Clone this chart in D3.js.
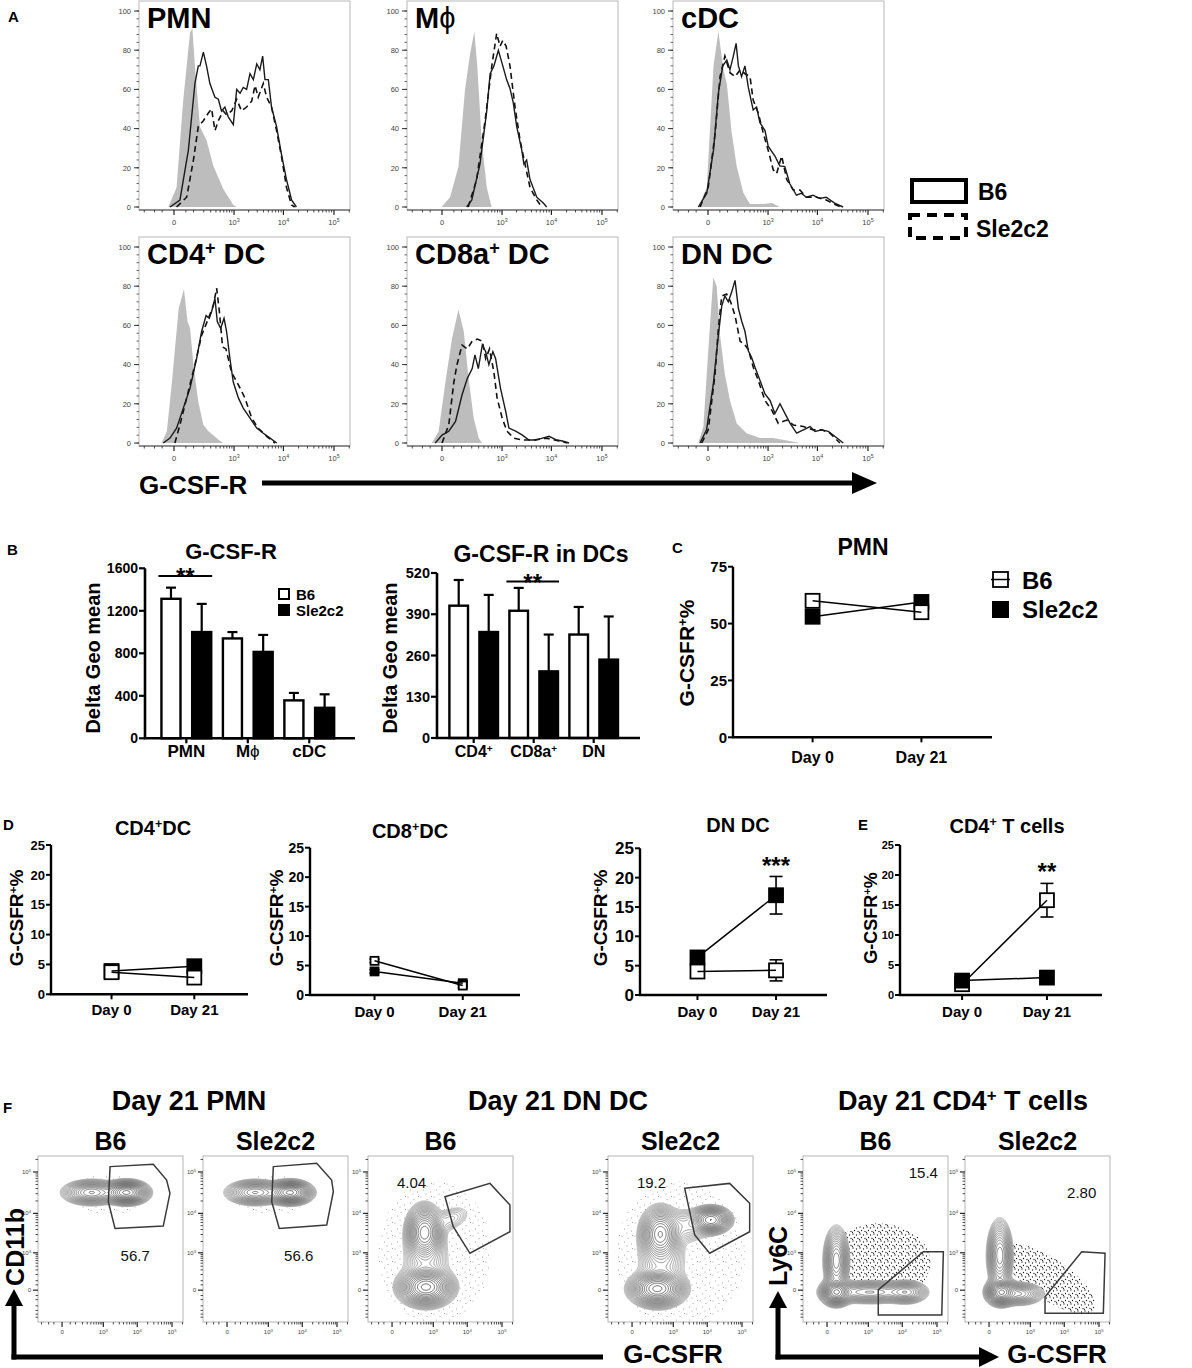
<!DOCTYPE html>
<html>
<head>
<meta charset="utf-8">
<script src="https://cdn.jsdelivr.net/npm/d3@7"></script>
<style>
  body { margin: 0; background: #fff; }
  svg { display: block; font-family: "Liberation Sans", Arial, sans-serif; }
</style>
</head>
<body>
<svg id="fig" width="1192" height="1368"></svg>
<script>
// ---------------------------------------------------------------------------
// Panel A: histogram traces, [display channel 0-100 across the axis, % of max]
const pmnIso = [[13.9,0],[17.8,10],[21,55],[24.2,89],[25.3,91],[26.5,72],[28.9,41],[32,34],[35.2,21],[40,9],[44.7,1],[46.3,0]];
const pmnB6 = [[14.7,0],[19.4,3.5],[23.4,29],[26.5,63],[28.1,72],[28.9,72],[30.5,79],[32,72],[33.6,63],[36,56],[37.6,55],[39.1,49],[40.7,51],[42.3,46],[44.7,42],[46.3,60],[47.9,58],[49.4,61],[51,60],[52.6,68],[54.2,65],[55.8,73],[57.3,70],[58.6,77],[59.7,65],[61.3,65],[62.8,51],[65.2,41],[67.5,27],[69.9,14],[72.3,3.6],[74.6,0]];
const pmnSle = [[17.8,0],[22.6,5],[25.8,24],[28.1,41],[30.5,44],[32.9,48],[34.4,50],[36,39],[37.6,44],[39.9,49],[41.5,47],[43.9,49],[46.3,55],[48.6,49],[51,51],[53.4,54],[55,62],[56.5,56],[58.9,63],[60.5,56],[62.8,51],[65.2,39],[67.5,26],[69.9,10],[72.3,1],[73.8,0]];
const macIso = [[16.4,0],[20.4,5],[24.4,20.6],[27.5,60],[29.9,78],[31.9,89.5],[33.3,72],[35.4,34],[37.8,10],[40.1,0]];
const macB6 = [[28.3,0],[30.7,3.6],[34.6,22],[37.8,49],[39.4,68],[41.2,72],[43.3,80],[45.4,72],[47.2,65],[48.8,60.5],[50.4,53],[52,41],[54.4,29],[55.4,22],[56.7,24],[58.3,14],[61.5,5],[64.6,2],[66.2,0]];
const macSle = [[29,0],[33,14],[37,44],[40.2,72],[42.5,88.6],[44.1,82],[45.4,85],[47,82],[48.8,72],[51.2,51],[53.6,34],[55.9,22],[58.3,10],[61.5,3.6],[63.8,0]];
const cdcIso = [[12,0],[16,10],[19.2,72],[21.5,89.5],[23.9,70],[25.5,63],[27.8,38],[30.2,20.6],[33.4,7],[36.5,1.5],[42.8,1.5],[47,2],[50.6,0]];
const cdcB6 = [[12,0],[16,7],[19.2,29],[21.5,58],[23.6,72],[25.5,75],[27,70],[28.6,77],[29.9,83.5],[31,72],[32.5,66.5],[34.1,72],[35.7,61],[38,49.5],[39.6,51],[41.2,43],[43.6,39],[45.1,31],[48.3,26],[50.6,21],[53,20.6],[55.3,12],[58.5,6],[60.8,7],[63.2,5],[66.3,6],[69.5,4.4],[72.6,5],[76.6,2],[80.6,0]];
const cdcSle = [[12.8,0],[16.7,10],[19.9,37],[22.3,66.5],[24.6,77],[27,68.5],[29.4,66.5],[31.8,70],[34.1,68],[36.5,66.5],[38,54.6],[40.4,48],[42.8,37.6],[45.1,29],[47.5,19],[49.1,17],[51.5,26],[53.9,14],[57,8.7],[60.2,8.7],[63.2,5],[68,5],[72.6,3.6],[77.3,1],[79.5,0]];
const cd4dcIso = [[10.7,0],[13.2,6],[15.6,31],[18.8,68.6],[21.3,78.5],[23,62],[24.2,58.5],[25.8,40],[28.1,21],[30.5,9.3],[32.9,6],[35.2,4],[38.4,1],[40,0]];
const cd4dcB6 = [[11.5,0],[14.7,2.5],[17.8,7.6],[21,17.8],[24.2,28],[27.3,43],[29.7,57],[31.8,65],[33.3,63.6],[34.4,67],[36,73.7],[37.1,62],[38.7,58.5],[40.3,63.6],[41.5,57],[43.1,43],[44.7,31],[47.1,23],[49.4,17.8],[52.6,12.7],[55.8,7.6],[58.9,5],[62.1,2.5],[65.3,0]];
const cd4dcSle = [[17,0],[19.4,9.3],[22.6,23],[26.5,40],[29.7,55],[32.9,63.6],[35.2,70],[36.8,79],[38.1,67],[39.6,49],[41.2,48],[43.9,36],[47.1,29.7],[50.2,23],[53.4,12.7],[56.5,7.6],[60.5,3.4],[64.5,0]];
const cd8dcIso = [[11.8,0],[15,6],[18.2,31],[21.3,53],[24.4,68],[26.9,57],[29.2,33],[31.6,12.7],[34,2.5],[35.5,0]];
const cd8dcB6 = [[13.4,0],[16.6,4],[19.8,6],[23,11],[26.1,24.6],[28.6,33],[30.9,38],[32.2,45],[33.8,38],[35.7,50],[37.3,46.6],[38.8,40],[40.7,46.6],[42,43],[44.3,28],[46.8,16],[48.3,7.6],[51.5,6],[54.7,4],[57.8,1.5],[61,1.5],[64.2,2.5],[67.3,3.4],[70.5,1.7],[73.6,1],[76.8,0]];
const cd8dcSle = [[16.6,0],[19.8,9.3],[22.2,31],[23.7,40],[26.1,50],[28.6,48],[30.9,52],[33.3,53],[35.7,52],[37.3,43],[39.1,48],[41.2,36],[42.7,23],[45.1,12.7],[47.4,6],[50.6,2.5],[54.7,1.5],[60,1.5],[66,2.5],[72,1],[76,0]];
const dndcIso = [[12,0],[14.4,8.4],[16.7,47],[19.1,84.4],[20.7,80],[22.3,55],[24.6,35],[27,21.7],[30.2,10],[34.9,5],[41.2,2.5],[47.5,2.5],[53.9,1.3],[60.2,0]];
const dndcB6 = [[12.8,0],[15.9,6.7],[19.1,30],[21.5,55],[23.1,70],[24.6,75],[26.2,72],[27.8,77],[29.4,83],[31,68.6],[32.6,62],[34.1,57],[35.7,47],[37.3,43.5],[38.9,38.5],[41.2,32],[43.6,25],[46,21.7],[48.3,15],[50.7,20],[53.1,15],[55.5,10],[58.6,5],[61.8,6.7],[65,8.4],[67.3,5.9],[70.5,6.7],[73.6,5.9],[76.8,3.3],[80.7,0]];
const dndcSle = [[13.6,0],[16.7,6.7],[19.9,35],[21.5,58.5],[23.1,75],[25.4,76],[27.3,72],[29.4,65],[31.8,52],[34.1,50],[35.7,47.7],[38.1,38.5],[40.4,32],[43.6,21.7],[46.8,16.7],[49.9,10],[53.9,11.7],[57,9.2],[61.8,8.4],[66.5,6.7],[70.5,6.7],[74.4,5],[79.1,0]];
const histTitles = ["PMN", "Mϕ", "cDC", "CD4+ DC", "CD8a+ DC", "DN DC"];
const histYTicks = [0, 20, 40, 60, 80, 100];
const flowTickVals = [0, 1e3, 1e4, 1e5];
const flowTickText = ["0", "10^3", "10^4", "10^5"];
const flowMinor = [-500,-400,-300,-200,-100,-50,50,100,200,300,400,500,600,700,800,900,
  2e3,3e3,4e3,5e3,6e3,7e3,8e3,9e3,2e4,3e4,4e4,5e4,6e4,7e4,8e4,9e4,2e5];

// Panel B: delta geo mean, bars are mean, error is the upper SD
const barGroupsL = ["PMN", "Mϕ", "cDC"];
const barB6L = [1313, 940, 357];
const barB6ErrL = [105, 60, 70];
const barSleL = [1000, 813, 287];
const barSleErrL = [265, 160, 127];
const barTicksL = [0, 400, 800, 1200, 1600];
const barGroupsR = ["CD4+", "CD8a+", "DN"];
const barB6R = [417, 401, 326];
const barB6ErrR = [81, 72, 87];
const barSleR = [334, 210, 247];
const barSleErrR = [117, 116, 136];
const barTicksR = [0, 130, 260, 390, 520];

// Panels C-E: G-CSFR+ % at day 0 and day 21
const days = ["Day 0", "Day 21"];
const pmnPctB6 = [60, 55], pmnPctB6Err = [3, 2];
const pmnPctSle = [53, 59.5], pmnPctSleErr = [2.5, 2];
const cd4dcPctB6 = [3.7, 2.8], cd4dcPctB6Err = [0.8, 0.9];
const cd4dcPctSle = [3.9, 4.7], cd4dcPctSleErr = [0.9, 0.6];
const cd8dcPctB6 = [5.8, 1.6], cd8dcPctB6Err = [0.3, 0.5];
const cd8dcPctSle = [4.0, 2.0], cd8dcPctSleErr = [0.3, 0.4];
const dndcPctB6 = [4.0, 4.2], dndcPctB6Err = [0.5, 1.8];
const dndcPctSle = [6.4, 17.0], dndcPctSleErr = [0.7, 3.2];
const cd4tPctB6 = [1.8, 15.8], cd4tPctB6Err = [0.5, 2.8];
const cd4tPctSle = [2.4, 2.9], cd4tPctSleErr = [0.4, 0.4];
const pctTicksC = [0, 25, 50, 75];
const pctTicksD = [0, 5, 10, 15, 20, 25];

// Panel F: populations as [x ch, y ch, sd x, sd y, angle deg, weight], gates in channels
const fPmnB6Pops = [[37,78,8,3,0,0.4],[61,78,6,2.8,0,1]];
const fPmnB6Dots = [[48,77,17,8,0,1]];
const fPmnB6Gate = [[49.7,93.6],[79.5,95],[88.7,85.5],[91,77.5],[86.4,57.8],[53.1,56.4],[48.5,72.5]];
const fPmnSlePops = [[36,78,8,3,0,0.4],[60,78,6,2.8,0,1]];
const fPmnSleDots = [[47,77,17,8,0,1]];
const fPmnSleGate = [[48.5,93.6],[78.4,95.6],[88.7,85.5],[89.9,78.5],[85.3,58.4],[52.6,56.4],[47.4,72.5]];
const fDnB6Pops = [[40,21,7.5,4.5,0,1],[39,54,5,6.5,0,0.7],[40,37,8,11,0,0.06],[57,62,7,3.5,20,0.04]];
const fDnB6Dots = [[46,42,20,22,0,1]];
const fDnB6Gate = [[53.1,75.5],[84.1,83.5],[97.9,70.5],[97.9,54.4],[70.3,41.4],[58.8,57.4]];
const fDnSlePops = [[34,20,7.5,4.2,0,1],[36,53,5.5,6.5,0,0.6],[71,61.5,5.5,3.2,0,0.75],[37,37,8,11,0,0.07],[54,58,9,5,0,0.06]];
const fDnSleDots = [[50,40,23,23,0,1]];
const fDnSleGate = [[52.9,80.5],[83.9,83.5],[97.7,71.5],[97.7,54.4],[70.1,41.4],[59.8,52.4]];
const fTB6Pops = [[23,18,4.2,3.2,0,1],[23,37,3.5,8,0,0.4],[46,18,13,2.8,0,0.28],[71,18,6,2.8,0,0.3]];
const fTB6Dots = [[52,36,20,13,0,1]];
const fTB6Gate = [[51.9,4.2],[51.9,19.3],[83,42.3],[96.8,42.3],[95.7,4.2]];
const fTSlePops = [[25,18,4.2,3.2,0,1],[24,40,3.5,8.5,0,0.4],[37,17,7,2.8,0,0.28]];
const fTSleDots = [[58,26,20,7,-30,1]];
const fTSleGate = [[55.2,5.2],[55.2,15.2],[80.5,42.3],[96.6,41.4],[95.4,5.2]];
const fGateValues = ["56.7", "56.6", "4.04", "19.2", "15.4", "2.80"];
const fGateLabelPos = [[67,40],[66,40],[30,83.5],[30,83.5],[83,89.6],[80.5,77.5]];
const fStrains = ["B6", "Sle2c2", "B6", "Sle2c2", "B6", "Sle2c2"];
const fGroups = ["Day 21 PMN", "Day 21 DN DC", "Day 21 CD4+ T cells"];

// ---------------------------------------------------------------------------
const HIST = { W: 211, H: 209, lefts: [139, 407, 673], tops: [1, 237] };
const FLOW = { W: 145, H: 166, top: 1156, lefts: [38, 203, 368, 608, 803, 965] };
const NARROW = "'Liberation Sans Narrow', 'Liberation Sans', Arial, sans-serif";

const svg = d3.select("#fig");
const defs = svg.append("defs");

// "+" and "^n" become superscripts; ϕ keeps the thin Symbol-font stroke.
function rich(t, str) {
  str.split(/(\+|ϕ|\^\d)/).filter(s => s).forEach(s => {
    const ts = t.append("tspan");
    if (s === "+") ts.text("+").attr("font-size", "0.62em").attr("baseline-shift", "super");
    else if (s[0] === "^") ts.text(s.slice(1)).attr("font-size", "0.7em").attr("baseline-shift", "super");
    else if (s === "ϕ") ts.text("ϕ").attr("font-weight", "normal");
    else ts.text(s);
  });
  return t;
}
function label(g, str, x, y, o = {}) {
  const t = g.append("text").attr("x", x).attr("y", y)
    .attr("font-size", o.size || 14).attr("font-weight", o.weight || "bold")
    .attr("text-anchor", o.anchor || "start").attr("fill", o.fill || "#000");
  if (o.family) t.attr("font-family", o.family);
  if (o.rotate) t.attr("transform", `rotate(${o.rotate},${x},${y})`).attr("dy", "0.35em");
  return rich(t, str);
}
function seg(g, x1, y1, x2, y2, w, c = "#000") {
  return g.append("line").attr("x1", x1).attr("y1", y1).attr("x2", x2).attr("y2", y2)
    .attr("stroke", c).attr("stroke-width", w);
}
function arrowHead(g, tip, dir, len, half) {
  const [x, y] = tip;
  const pts = dir === "right"
    ? [[x, y], [x - len, y - half], [x - len, y + half]]
    : [[x, y], [x - half, y + len], [x + half, y + len]];
  g.append("path").attr("d", d3.line()(pts) + "Z").attr("fill", "#000");
}

// FlowJo-like biexponential display axis
const flowX = w => d3.scaleSymlog().constant(70).domain([-273, 2.07e5]).range([0, w]);
const flowY = h => d3.scaleSymlog().constant(145).domain([-698, 2.419e5]).range([h, 0]);
function flowAxisBottom(g, sc, h, fs, lab) {
  const [lo, hi] = sc.domain();
  flowMinor.filter(v => v > lo && v < hi).forEach(v => seg(g, sc(v), h, sc(v), h + 2.5, 0.8, "#222"));
  flowTickVals.forEach((v, i) => {
    seg(g, sc(v), h, sc(v), h + 5, 1.2, "#222");
    label(g, flowTickText[i], sc(v), h + lab, { size: fs, weight: "normal", anchor: "middle", fill: "#444" });
  });
}
function flowAxisLeft(g, sc, fs) {
  const [lo, hi] = sc.domain();
  flowMinor.filter(v => v > lo && v < hi).forEach(v => seg(g, 0, sc(v), -2.5, sc(v), 0.8, "#222"));
  flowTickVals.forEach((v, i) => {
    seg(g, 0, sc(v), -5, sc(v), 1.2, "#222");
    label(g, flowTickText[i], -7, sc(v) + fs * 0.35, { size: fs, weight: "normal", anchor: "end", fill: "#444" });
  });
}

// ---------------------------------------------------------------------------
// Panel A
function histPanel(p, k) {
  const col = k % 3, row = Math.floor(k / 3);
  const w = HIST.W, h = HIST.H;
  const g = svg.append("g").attr("transform", `translate(${HIST.lefts[col]},${HIST.tops[row]})`);
  const x = d3.scaleLinear().domain([0, 100]).range([0, w]);
  const y = d3.scaleLinear().domain([0, 100]).range([h - 3, 10]);
  g.append("rect").attr("width", w).attr("height", h).attr("fill", "#fff")
    .attr("stroke", "#b8b8b8").attr("stroke-width", 1);
  const area = d3.area().x(d => x(d[0])).y0(y(0)).y1(d => y(d[1]));
  const line = d3.line().x(d => x(d[0])).y(d => y(d[1]));
  g.append("path").attr("d", area(p.iso)).attr("fill", "#bdbdbd");
  g.append("path").attr("d", line(p.sle)).attr("fill", "none").attr("stroke", "#111")
    .attr("stroke-width", 1.6).attr("stroke-dasharray", "6,4");
  g.append("path").attr("d", line(p.b6)).attr("fill", "none").attr("stroke", "#1a1a1a")
    .attr("stroke-width", 1.4);
  seg(g, 0, h, w, h, 1, "#444");
  d3.range(0, 101, 4).forEach(v => seg(g, 0, y(v), -2.5, y(v), 0.8, "#444"));
  histYTicks.forEach(v => {
    seg(g, 0, y(v), -5, y(v), 1, "#333");
    label(g, String(v), -8, y(v) + 2.8, { size: 7.5, weight: "normal", anchor: "end", fill: "#444" });
  });
  flowAxisBottom(g, flowX(w), h, 7.5, 15);
  label(g, p.title, 8, 27, { size: 29 });
}
const histSets = [
  [pmnIso, pmnB6, pmnSle], [macIso, macB6, macSle], [cdcIso, cdcB6, cdcSle],
  [cd4dcIso, cd4dcB6, cd4dcSle], [cd8dcIso, cd8dcB6, cd8dcSle], [dndcIso, dndcB6, dndcSle]
];
histSets.forEach(([iso, b6, sle], k) => histPanel({ iso, b6, sle, title: histTitles[k] }, k));

const gA = svg.append("g");
label(gA, "A", 8, 22, { size: 15 });
label(gA, "G-CSF-R", 139, 494, { size: 26 });
seg(gA, 262, 483, 856, 483, 5);
arrowHead(gA, [877, 483], "right", 25, 11);
gA.append("rect").attr("x", 912).attr("y", 180).attr("width", 54).attr("height", 22)
  .attr("fill", "none").attr("stroke", "#000").attr("stroke-width", 4);
gA.append("rect").attr("x", 910).attr("y", 215).attr("width", 56).attr("height", 23)
  .attr("fill", "none").attr("stroke", "#000").attr("stroke-width", 4).attr("stroke-dasharray", "10,7");
label(gA, "B6", 978, 200, { size: 23 });
label(gA, "Sle2c2", 976, 237, { size: 23 });

// ---------------------------------------------------------------------------
// Panel B
function barChart(o) {
  const g = svg.append("g");
  const y = d3.scaleLinear().domain([0, o.max]).range([o.y0, o.yTop]);
  const x0 = d3.scaleBand().domain(o.groups).range(o.band);
  const x1 = d3.scaleBand().domain(["B6", "Sle2c2"]).range([0, x0.bandwidth()])
    .paddingInner(0.38).paddingOuter(0.19);
  const series = [
    { name: "B6", v: o.b6, e: o.b6Err, fill: "#fff" },
    { name: "Sle2c2", v: o.sle, e: o.sleErr, fill: "#000" }
  ];
  series.forEach(s => o.groups.forEach((grp, i) => {
    const bx = x0(grp) + x1(s.name), bw = x1.bandwidth(), cx = bx + bw / 2;
    seg(g, cx, y(s.v[i]), cx, y(s.v[i] + s.e[i]), 2.2);
    seg(g, cx - 5, y(s.v[i] + s.e[i]), cx + 5, y(s.v[i] + s.e[i]), 2.2);
    g.append("rect").attr("x", bx).attr("y", y(s.v[i])).attr("width", bw)
      .attr("height", y(0) - y(s.v[i])).attr("fill", s.fill)
      .attr("stroke", "#000").attr("stroke-width", 2.4);
  }));
  seg(g, o.axisX, o.y0, o.axisX, o.yTop, 2.6);
  seg(g, o.axisX - 1.3, o.y0, o.xEnd, o.y0, 2.6);
  o.ticks.forEach(v => {
    seg(g, o.axisX, y(v), o.axisX - 6, y(v), 2.2);
    label(g, String(v), o.axisX - 7, y(v) + 5, { size: o.tickSize, anchor: "end" });
  });
  o.groups.forEach(grp => {
    const cx = x0(grp) + x0.bandwidth() / 2;
    seg(g, cx, o.y0, cx, o.y0 + 5, 2.2);
    label(g, grp, cx, o.y0 + 19, { size: o.catSize, anchor: "middle" });
  });
  label(g, o.title, o.titleX, o.titleY, { size: o.titleSize, anchor: "middle" });
  label(g, "Delta Geo mean", o.yTitleX, o.yTitleY, { size: 20, anchor: "middle", rotate: -90 });
  const sg = x0(o.groups[o.sig]);
  const sx1 = sg + x1("B6") - 3, sx2 = sg + x1("Sle2c2") + x1.bandwidth() + 1;
  seg(g, sx1, o.sigY, sx2, o.sigY, 2);
  label(g, "**", (sx1 + sx2) / 2, o.sigY + 9, { size: 24, anchor: "middle" });
  return g;
}
const gBl = barChart({
  groups: barGroupsL, b6: barB6L, b6Err: barB6ErrL, sle: barSleL, sleErr: barSleErrL,
  max: 1600, ticks: barTicksL, y0: 738.3, yTop: 568.3, band: [155.6, 340], axisX: 145, xEnd: 355,
  tickSize: 14, catSize: 17, title: "G-CSF-R", titleX: 231, titleY: 559, titleSize: 22,
  yTitleX: 93, yTitleY: 658, sig: 0, sigY: 576
});
gBl.append("rect").attr("x", 279).attr("y", 589).attr("width", 10).attr("height", 10)
  .attr("fill", "#fff").attr("stroke", "#000").attr("stroke-width", 2);
gBl.append("rect").attr("x", 278).attr("y", 604).attr("width", 12).attr("height", 12).attr("fill", "#000");
label(gBl, "B6", 296, 600, { size: 15 });
label(gBl, "Sle2c2", 296, 616, { size: 15 });
label(gBl, "B", 7, 555, { size: 15 });
barChart({
  groups: barGroupsR, b6: barB6R, b6Err: barB6ErrR, sle: barSleR, sleErr: barSleErrR,
  max: 520, ticks: barTicksR, y0: 738, yTop: 573, band: [443.7, 623.7], axisX: 437, xEnd: 640,
  tickSize: 14.5, catSize: 16, title: "G-CSF-R in DCs", titleX: 541, titleY: 562, titleSize: 23,
  yTitleX: 390, yTitleY: 658, sig: 1, sigY: 581.5
});

// ---------------------------------------------------------------------------
// Panels C, D, E
function lineChart(o) {
  const g = svg.append("g");
  const x = d3.scalePoint().domain(days).range([o.axisX, o.xEnd]).padding(0.69).align(0.53);
  const y = d3.scaleLinear().domain([0, o.max]).range([o.y0, o.yTop]);
  const line = d3.line().x((d, i) => x(days[i])).y(d => y(d));
  const s6 = { v: o.b6, e: o.b6Err, fill: "#fff" }, sS = { v: o.sle, e: o.sleErr, fill: "#000" };
  const order = o.sleOnTop ? [s6, sS] : [sS, s6];
  const ms = o.ms, cap = o.cap;
  order.forEach(s => s.v.forEach((v, i) => {
    const cx = x(days[i]);
    seg(g, cx, y(v - s.e[i]), cx, y(v + s.e[i]), 1.6);
    seg(g, cx - cap, y(v + s.e[i]), cx + cap, y(v + s.e[i]), 1.6);
    seg(g, cx - cap, y(v - s.e[i]), cx + cap, y(v - s.e[i]), 1.6);
  }));
  order.forEach(s => s.v.forEach((v, i) => {
    g.append("rect").attr("x", x(days[i]) - ms / 2).attr("y", y(v) - ms / 2)
      .attr("width", ms).attr("height", ms).attr("fill", s.fill)
      .attr("stroke", "#000").attr("stroke-width", 1.8);
  }));
  [o.b6, o.sle].forEach(v => g.append("path").attr("d", line(v))
    .attr("fill", "none").attr("stroke", "#000").attr("stroke-width", 1.5));
  seg(g, o.axisX, o.y0, o.axisX, o.yTop, 2.4);
  seg(g, o.axisX - 1.2, o.y0, o.xEnd, o.y0, 2.4);
  o.ticks.forEach(v => {
    seg(g, o.axisX, y(v), o.axisX - 5, y(v), 2);
    label(g, String(v), o.axisX - 6, y(v) + o.tickSize * 0.36, { size: o.tickSize, anchor: "end", family: o.family });
  });
  days.forEach(d => {
    seg(g, x(d), o.y0, x(d), o.y0 + 5, 2);
    label(g, d, x(d), o.dayY, { size: o.daySize, anchor: "middle", family: o.family });
  });
  label(g, o.title, o.titleX, o.titleY, { size: o.titleSize, anchor: "middle", family: o.family });
  label(g, "G-CSFR+%", o.yTitleX, o.yTitleY, { size: o.yTitleSize, anchor: "middle", rotate: -90, family: o.family });
  if (o.star) label(g, o.star, x(days[1]), o.starY, { size: 24, anchor: "middle", family: o.family });
  return g;
}
const gC = lineChart({
  b6: pmnPctB6, b6Err: pmnPctB6Err, sle: pmnPctSle, sleErr: pmnPctSleErr, max: 75, ticks: pctTicksC,
  axisX: 733, xEnd: 992, y0: 737.3, yTop: 566.7, ms: 14, cap: 7, tickSize: 15, daySize: 16, dayY: 763,
  title: "PMN", titleX: 863, titleY: 555, titleSize: 23, yTitleX: 687, yTitleY: 653, yTitleSize: 21
});
label(gC, "C", 672, 553, { size: 15 });
gC.append("rect").attr("x", 993).attr("y", 572).attr("width", 15).attr("height", 15)
  .attr("fill", "#fff").attr("stroke", "#000").attr("stroke-width", 1.8);
seg(gC, 991, 579.5, 1010, 579.5, 1.5);
gC.append("rect").attr("x", 992).attr("y", 601).attr("width", 17).attr("height", 17).attr("fill", "#000");
label(gC, "B6", 1022, 589, { size: 24 });
label(gC, "Sle2c2", 1022, 618, { size: 24 });

const gD = lineChart({
  b6: cd4dcPctB6, b6Err: cd4dcPctB6Err, sle: cd4dcPctSle, sleErr: cd4dcPctSleErr, max: 25, ticks: pctTicksD,
  axisX: 51, xEnd: 248, y0: 994.3, yTop: 845, ms: 14, cap: 6, tickSize: 13, daySize: 15, dayY: 1015,
  title: "CD4+DC", titleX: 153, titleY: 835, titleSize: 20, yTitleX: 16, yTitleY: 918, yTitleSize: 19,
  family: NARROW
});
label(gD, "D", 3, 830, { size: 15 });
lineChart({
  b6: cd8dcPctB6, b6Err: cd8dcPctB6Err, sle: cd8dcPctSle, sleErr: cd8dcPctSleErr, max: 25, ticks: pctTicksD,
  axisX: 310, xEnd: 520, y0: 995, yTop: 847.7, ms: 8, cap: 5, tickSize: 14, daySize: 15, dayY: 1017,
  title: "CD8+DC", titleX: 410, titleY: 838, titleSize: 20, yTitleX: 276, yTitleY: 918, yTitleSize: 19,
  family: NARROW
});
lineChart({
  b6: dndcPctB6, b6Err: dndcPctB6Err, sle: dndcPctSle, sleErr: dndcPctSleErr, max: 25, ticks: pctTicksD,
  axisX: 640, xEnd: 827, y0: 995, yTop: 848.3, ms: 14, cap: 6.5, tickSize: 17, daySize: 15, dayY: 1017,
  title: "DN DC", titleX: 738, titleY: 832, titleSize: 20, yTitleX: 600, yTitleY: 918, yTitleSize: 19,
  star: "***", starY: 874, family: NARROW
});
const gE = lineChart({
  b6: cd4tPctB6, b6Err: cd4tPctB6Err, sle: cd4tPctSle, sleErr: cd4tPctSleErr, max: 25, ticks: pctTicksD,
  axisX: 900, xEnd: 1102, y0: 995, yTop: 845, ms: 14, cap: 6.5, tickSize: 11, daySize: 15, dayY: 1017,
  title: "CD4+ T cells", titleX: 1007, titleY: 833, titleSize: 20, yTitleX: 871, yTitleY: 918, yTitleSize: 18,
  star: "**", starY: 880, sleOnTop: true, family: NARROW
});
label(gE, "E", 858, 830, { size: 15 });

// ---------------------------------------------------------------------------
// Panel F
function dotPattern(id, size, pts, r, fill) {
  const p = defs.append("pattern").attr("id", id).attr("width", size).attr("height", size)
    .attr("patternUnits", "userSpaceOnUse");
  pts.forEach(([x, y]) => p.append("circle").attr("cx", x).attr("cy", y).attr("r", r).attr("fill", fill));
}
dotPattern("dotsLight", 13, [[1, 2], [7, 4.5], [3.5, 8], [10.5, 10], [11.5, 1.5], [6, 12]], 0.5, "#8c8c8c");
dotPattern("dotsDark", 7, [[1, 1], [4.5, 2], [2.5, 4.5], [6, 5.5], [0.5, 6.3]], 0.65, "#1a1a1a");
// contour levels spaced geometrically, as in FlowJo's log-density contours
const contourLevels = d3.range(22).map(k => 0.01 * Math.pow(1.24, k));
const shade = k => d3.interpolateRgb("#a0a0a0", "#262626")(k / (contourLevels.length - 1));

function flowPlot(p, i) {
  const w = FLOW.W, h = FLOW.H;
  const g = svg.append("g").attr("transform", `translate(${FLOW.lefts[i]},${FLOW.top})`);
  const cx = d3.scaleLinear().domain([0, 100]).range([0, w]);
  const cy = d3.scaleLinear().domain([0, 100]).range([h, 0]);
  // density surface of the listed populations on a 1px grid, scaled to max 1
  const grid = pops => {
    const v = new Float64Array(w * h);
    for (let j = 0; j < h; j++) for (let k = 0; k < w; k++) {
      const X = cx.invert(k + 0.5), Y = cy.invert(j + 0.5);
      let s = 0;
      for (const [px, py, sx, sy, ang, wt] of pops) {
        const a = ang * Math.PI / 180, dx = X - px, dy = Y - py;
        const u = dx * Math.cos(a) + dy * Math.sin(a), t = -dx * Math.sin(a) + dy * Math.cos(a);
        s += wt * Math.exp(-0.5 * (u * u / (sx * sx) + t * t / (sy * sy)));
      }
      v[j * w + k] = s;
    }
    const m = d3.max(v);
    return Array.from(v, d => d / m);
  };
  const path = d3.geoPath();
  g.append("rect").attr("width", w).attr("height", h).attr("fill", "#fff")
    .attr("stroke", "#b5b5b5").attr("stroke-width", 1);
  const dotArea = d3.contours().size([w, h]).thresholds([p.dotCut])(grid(p.dots));
  g.append("path").attr("d", path(dotArea[0])).attr("fill", `url(#${p.dotStyle})`);
  const shapes = d3.contours().size([w, h]).thresholds(contourLevels)(grid(p.pops));
  g.append("path").attr("d", path(shapes[0])).attr("fill", "#fff");
  shapes.forEach((s, k) => g.append("path").attr("d", path(s)).attr("fill", "none")
    .attr("stroke", shade(k)).attr("stroke-width", 0.7));
  g.append("path").attr("d", d3.line().x(d => cx(d[0])).y(d => cy(d[1]))(p.gate) + "Z")
    .attr("fill", "none").attr("stroke", "#3a3a3a").attr("stroke-width", 1.5);
  label(g, fGateValues[i], cx(fGateLabelPos[i][0]), cy(fGateLabelPos[i][1]) + 5,
    { size: 15, weight: "normal", anchor: "middle", fill: "#111" });
  flowAxisBottom(g, flowX(w), h, 6, 12);
  flowAxisLeft(g, flowY(h), 6);
  label(g, fStrains[i], w / 2, -6, { size: 25, anchor: "middle" });
}
const flowSets = [
  [fPmnB6Pops, fPmnB6Dots, fPmnB6Gate, "dotsLight", 0.3],
  [fPmnSlePops, fPmnSleDots, fPmnSleGate, "dotsLight", 0.3],
  [fDnB6Pops, fDnB6Dots, fDnB6Gate, "dotsLight", 0.15],
  [fDnSlePops, fDnSleDots, fDnSleGate, "dotsLight", 0.15],
  [fTB6Pops, fTB6Dots, fTB6Gate, "dotsDark", 0.2],
  [fTSlePops, fTSleDots, fTSleGate, "dotsDark", 0.2]
];
flowSets.forEach(([pops, dots, gate, dotStyle, dotCut], i) => flowPlot({ pops, dots, gate, dotStyle, dotCut }, i));

const gF = svg.append("g");
label(gF, "F", 3, 1113, { size: 15 });
[189, 558, 963].forEach((cxT, k) => label(gF, fGroups[k], cxT, 1110, { size: 27, anchor: "middle" }));
seg(gF, 14, 1359.5, 14, 1303, 5);
arrowHead(gF, [14, 1289], "up", 17, 9);
seg(gF, 11.5, 1357, 603, 1357, 5);
label(gF, "CD11b", 15, 1247, { size: 25, anchor: "middle", rotate: -90 });
label(gF, "G-CSFR", 673, 1363, { size: 26, anchor: "middle" });
seg(gF, 778, 1359.5, 778, 1305, 5);
arrowHead(gF, [778, 1291], "up", 17, 9);
seg(gF, 775.5, 1357, 982, 1357, 5);
arrowHead(gF, [999, 1357], "right", 20, 10);
label(gF, "Ly6C", 778, 1256, { size: 25, anchor: "middle", rotate: -90 });
label(gF, "G-CSFR", 1057, 1363, { size: 26, anchor: "middle" });
</script>
</body>
</html>
